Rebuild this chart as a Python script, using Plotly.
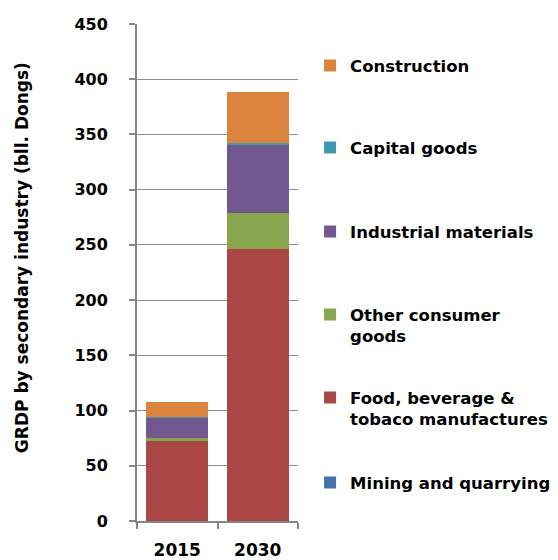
import plotly.graph_objects as go

years = ["2015", "2030"]
series_names = [
    "Mining and quarrying",
    "Food, beverage &<br>tobaco manufactures",
    "Other consumer<br>goods",
    "Industrial materials",
    "Capital goods",
    "Construction",
]
mining = [0.1, 0.1]
food = [72, 246]
other_consumer = [3.4, 32.7]
industrial = [18.6, 62.3]
capital = [0.2, 1.0]
construction = [13.8, 46]

values = [mining, food, other_consumer, industrial, capital, construction]
colors = ["#4572A7", "#AA4643", "#89A54E", "#71588F", "#4198AF", "#DB843D"]
legend_y = [0.112, 0.283, 0.450, 0.617, 0.786, 0.951]

FONT = "DejaVu Sans"

fig = go.Figure()
for i, (name, vals, col) in enumerate(zip(series_names, values, colors)):
    lg = "legend" if i == 0 else f"legend{i+1}"
    fig.add_trace(go.Bar(
        x=years, y=vals, name=name, marker=dict(color=col, line=dict(width=0)),
        legend=lg,
    ))

layout_legends = {}
for i, y in enumerate(legend_y):
    key = "legend" if i == 0 else f"legend{i+1}"
    layout_legends[key] = dict(
        x=1.075, y=y, xanchor="left", yanchor="top", xref="paper", yref="paper",
        font=dict(family=FONT, size=16.5, color="black", weight="bold"),
        bgcolor="rgba(0,0,0,0)", valign="top", itemwidth=30,
        tracegroupgap=0,
    )

fig.update_layout(
    barmode="stack",
    bargap=0.235,
    width=558, height=560,
    margin=dict(l=137, r=260, t=24, b=39, autoexpand=False),
    paper_bgcolor="white", plot_bgcolor="white",
    showlegend=True,
    font=dict(family=FONT, color="black"),
    annotations=[dict(
        text="GRDP by secondary industry (bll. Dongs)",
        textangle=-90, x=-0.714, y=0.529, xref="paper", yref="paper",
        xanchor="center", yanchor="middle", showarrow=False,
        font=dict(family=FONT, size=17, color="black", weight="bold"),
    )],
    **layout_legends,
)
fig.update_yaxes(
    range=[0, 450], dtick=50, tick0=0,
    showgrid=True, gridcolor="#8C8C8C", gridwidth=1,
    showline=True, linecolor="#868686", linewidth=2,
    ticks="outside", ticklen=6, tickcolor="#868686", tickwidth=2,
    ticklabelstandoff=18,
    tickfont=dict(family=FONT, size=16, color="black", weight="bold"),
    zeroline=False, automargin=False,
)
fig.update_xaxes(
    showline=True, linecolor="#868686", linewidth=2,
    ticks="outside", ticklen=6, tickcolor="#868686", tickwidth=2,
    tickson="boundaries", ticklabelstandoff=13,
    tickfont=dict(family=FONT, size=17, color="black", weight="bold"),
    automargin=False,
)

fig.write_html("out.html")
